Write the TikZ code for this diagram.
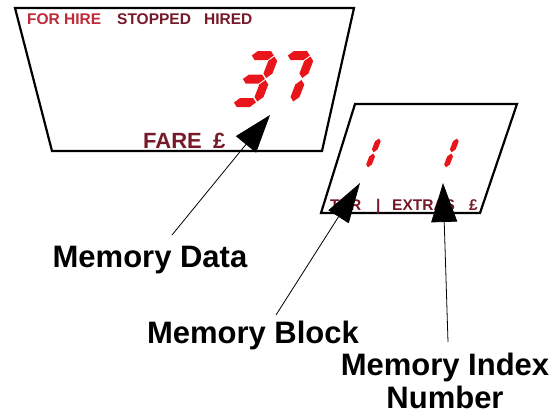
\documentclass[tikz,border=0pt]{standalone}
\usepackage{fontspec}
\setmainfont{Liberation Sans}
\usetikzlibrary{arrows.meta}
\definecolor{lcdred}{RGB}{232,22,26}
\definecolor{hirered}{RGB}{192,42,58}
\definecolor{dispmaroon}{RGB}{118,26,42}
\newcommand\hseg[3]{\fill[lcd] (#1,#3) -- ++(4.5,-4.5) -- ({#2-4.5},{#3-4.5}) -- (#2,#3) -- ++(-4.5,4.5) -- ({#1+4.5},{#3+4.5}) -- cycle;}
\newcommand\vseg[3]{\fill[lcd] (#1,#2) -- ++(4.5,4.5) -- ({#1+4.5},{#3-4.5}) -- (#1,#3) -- ++(-4.5,-4.5) -- ({#1-4.5},{#2+4.5}) -- cycle;}
\begin{document}
\begin{tikzpicture}[x=1pt,y=-1pt,
  panel/.style={draw=black, line width=2.2pt, fill=white, line join=miter},
  lcd/.style={fill=lcdred},
  lbl/.style={font=\bfseries\fontsize{31}{33}\selectfont, inner sep=0pt},
  disptext/.style={font=\bfseries\fontsize{15.5}{18}\selectfont, inner sep=0pt, anchor=base west, text=dispmaroon},
  faretext/.style={font=\bfseries\fontsize{22}{26}\selectfont, inner sep=0pt, anchor=base west, text=dispmaroon},
  leader/.style={draw=black, line width=0.8pt, -{Triangle[length=38pt,width=26pt]}}]
\useasboundingbox (0,0) rectangle (557,418);
% display panels
\draw[panel] (15,8) -- (354,8) -- (322,151) -- (52,151) -- cycle;
\draw[panel] (355,104) -- (517,104) -- (480,213) -- (321,213) -- cycle;
% top panel texts
\node[disptext, text=hirered] (forhire) at (27,24) {FOR HIRE};
\node[disptext] (stopped) at (117,24) {STOPPED};
\node[disptext] (hired) at (204,24) {HIRED};
\node[faretext] (fare) at (143,148) {FARE};
\node[faretext] (pound) at (213,148) {£};
% bottom panel texts
\node[disptext] (ter) at (330,210) {TER};
\node[disptext] (bar) at (376,210) {|};
\node[disptext] (extras) at (392,210) {EXTRAS};
\node[disptext] (epound) at (469,210) {£};
% digit 3
\begin{scope}[shift={(248,51)}, xslant=0.38]
  \hseg{5.5}{27.5}{4.5}
  \vseg{28.5}{5.5}{27}
  \hseg{5.5}{27.5}{28}
  \vseg{28.5}{29}{50.5}
  \hseg{5.5}{27.5}{51.5}
\end{scope}
% digit 7
\begin{scope}[shift={(284,51)}, xslant=0.38]
  \hseg{5.5}{27.5}{4.5}
  \vseg{28.5}{5.5}{27}
  \vseg{28.5}{29}{50.5}
\end{scope}
% small digits 1
\begin{scope}[shift={(362,135)}, xslant=0.38, scale=0.64]
  \vseg{28.5}{5.5}{27}
  \vseg{28.5}{29}{50.5}
\end{scope}
\begin{scope}[shift={(440,135)}, xslant=0.38, scale=0.64]
  \vseg{28.5}{5.5}{27}
  \vseg{28.5}{29}{50.5}
\end{scope}
% labels
\node[lbl, anchor=base] (memdata) at (150,267) {Memory Data};
\node[lbl, anchor=base] (memblock) at (253,343) {Memory Block};
\node[lbl, anchor=north, align=center] (memindex) at (445,353) {Memory Index\\Number};
% leader lines
\coordinate (dataFoot) at (172,235);
\coordinate (dataTip) at (270,115);
\coordinate (blockFoot) at (276,315);
\coordinate (blockTip) at (360,183);
\coordinate (indexFoot) at (448,342);
\coordinate (indexTip) at (443,183);
\draw[leader] (dataFoot) -- (dataTip);
\draw[leader, -{Triangle[length=40pt,width=24pt]}] (blockFoot) -- (blockTip);
\draw[leader, -{Triangle[length=39pt,width=26pt]}] (indexFoot) -- (indexTip);
\end{tikzpicture}
\end{document}
